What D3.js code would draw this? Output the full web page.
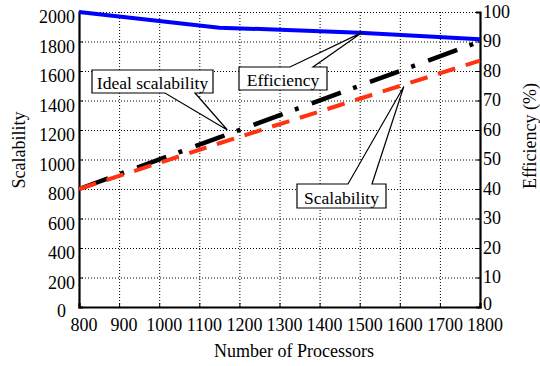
<!DOCTYPE html>
<html>
<head>
<meta charset="utf-8">
<script src="https://cdn.jsdelivr.net/npm/d3@7"></script>
<style>
  body { margin: 0; background: #fff; }
  text { font-family: "Liberation Serif", "Times New Roman", serif; fill: #000; }
</style>
</head>
<body>
<div id="chart"></div>
<script>
// Chart data
const processors = [800, 1150, 1500, 1800];
const idealScalability = [800, 1150, 1500, 1800];
const scalability = [800, 1110, 1412, 1670];
const efficiency = [100, 94.7, 93.0, 90.8];

const xTicks = [800, 900, 1000, 1100, 1200, 1300, 1400, 1500, 1600, 1700, 1800];
const leftTicks = [0, 200, 400, 600, 800, 1000, 1200, 1400, 1600, 1800, 2000];
const rightTicks = [0, 10, 20, 30, 40, 50, 60, 70, 80, 90, 100];

// Callout labels: text and the data point the pointer aims at
const callouts = [
  { label: "Ideal scalability", tip: [1170, 1200], axis: "left" },
  { label: "Efficiency", tip: [1505, 93], axis: "right" },
  { label: "Scalability", tip: [1610, 1495], axis: "left" }
];

// Layout
const width = 540, height = 366;
const plot = { left: 79, right: 480, top: 12, bottom: 307 };

const svg = d3.select("#chart")
  .append("svg")
  .attr("width", width)
  .attr("height", height);

const x = d3.scaleLinear().domain([800, 1800]).range([plot.left, plot.right]);
const yL = d3.scaleLinear().domain([0, 2000]).range([plot.bottom, plot.top]);
const yR = d3.scaleLinear().domain([0, 100]).range([plot.bottom, plot.top]);

// Dotted grid
const grid = svg.append("g")
  .attr("stroke", "#000")
  .attr("stroke-width", 1)
  .attr("stroke-dasharray", "1,2");

grid.selectAll("line.v")
  .data(xTicks.slice(1, -1))
  .enter()
  .append("line")
  .attr("x1", (d) => x(d) + 0.5)
  .attr("x2", (d) => x(d) + 0.5)
  .attr("y1", plot.top)
  .attr("y2", plot.bottom);

grid.selectAll("line.h")
  .data(leftTicks.slice(1))
  .enter()
  .append("line")
  .attr("x1", plot.left)
  .attr("x2", plot.right)
  .attr("y1", (d) => yL(d) + 0.5)
  .attr("y2", (d) => yL(d) + 0.5);

// Axes (ticks point inward)
const xAxis = svg.append("g")
  .attr("transform", `translate(0,${plot.bottom})`)
  .call(d3.axisTop(x).tickValues(xTicks).tickSize(4).tickFormat(""));

const leftAxis = svg.append("g")
  .attr("transform", `translate(${plot.left},0)`)
  .call(d3.axisRight(yL).tickValues(leftTicks).tickSize(4).tickFormat(""));

const rightAxis = svg.append("g")
  .attr("transform", `translate(${plot.right},0)`)
  .call(d3.axisLeft(yR).tickValues(rightTicks).tickSize(4).tickFormat(""));

[xAxis, leftAxis, rightAxis].forEach((a) => {
  a.select(".domain").attr("stroke-width", 2.2).attr("stroke", "#000");
  a.selectAll(".tick line").attr("stroke", "#000");
});

// Tick labels
svg.append("g")
  .selectAll("text")
  .data(xTicks)
  .enter()
  .append("text")
  .attr("x", (d) => x(d) + 5)
  .attr("y", 331)
  .attr("text-anchor", "middle")
  .style("font-size", "18px")
  .text((d) => d);

// the bottom "0" sits a little lower and further left, as in the original
svg.append("g")
  .selectAll("text")
  .data(leftTicks)
  .enter()
  .append("text")
  .attr("x", (d) => (d === 0 ? 66 : 75))
  .attr("y", (d) => (d === 0 ? yL(d) + 10 : yL(d) + 11))
  .attr("text-anchor", "end")
  .style("font-size", "18px")
  .text((d) => d);

svg.append("g")
  .selectAll("text")
  .data(rightTicks)
  .enter()
  .append("text")
  .attr("x", 483)
  .attr("y", (d) => (d === 0 ? yR(d) + 3 : yR(d) + 5.5))
  .attr("text-anchor", "start")
  .style("font-size", "18px")
  .text((d) => d);

// Axis titles
svg.append("text")
  .attr("x", 294)
  .attr("y", 357)
  .attr("text-anchor", "middle")
  .style("font-size", "18px")
  .text("Number of Processors");

svg.append("text")
  .attr("transform", "translate(25,150) rotate(-90)")
  .attr("text-anchor", "middle")
  .style("font-size", "18px")
  .text("Scalability");

svg.append("text")
  .attr("transform", "translate(536,136) rotate(-90)")
  .attr("text-anchor", "middle")
  .style("font-size", "18px")
  .text("Efficiency (%)");

// Lines
const lineLeft = d3.line()
  .x((d) => x(d[0]))
  .y((d) => yL(d[1]));
const lineRight = d3.line()
  .x((d) => x(d[0]))
  .y((d) => yR(d[1]));

svg.append("path")
  .datum(d3.zip(processors, idealScalability))
  .attr("d", lineLeft)
  .attr("fill", "none")
  .attr("stroke", "#000")
  .attr("stroke-width", 4.5)
  .attr("stroke-dasharray", "31,13,4,14");

svg.append("path")
  .datum(d3.zip(processors, scalability))
  .attr("d", lineLeft)
  .attr("fill", "none")
  .attr("stroke", "#ff3311")
  .attr("stroke-width", 4)
  .attr("stroke-dasharray", "18,11");

svg.append("path")
  .datum(d3.zip(processors, efficiency))
  .attr("d", lineRight)
  .attr("fill", "none")
  .attr("stroke", "#0000ff")
  .attr("stroke-width", 4);

// Callout boxes with pointers
const boxes = [
  { x0: 92, y0: 70, x1: 213, y1: 93, side: "bottom", b0: 165, b1: 195 },
  { x0: 239, y0: 67, x1: 327, y1: 90, side: "top", b0: 290, b1: 313 },
  { x0: 297, y0: 184, x1: 386, y1: 208, side: "top", b0: 348, b1: 372 }
];

callouts.forEach((c, i) => {
  const b = boxes[i];
  const tx = x(c.tip[0]);
  const ty = c.axis === "left" ? yL(c.tip[1]) : yR(c.tip[1]);
  let p;
  if (b.side === "top") {
    p = `M${b.x0},${b.y0}H${b.b0}L${tx},${ty}L${b.b1},${b.y0}H${b.x1}V${b.y1}H${b.x0}Z`;
  } else {
    p = `M${b.x0},${b.y0}H${b.x1}V${b.y1}H${b.b1}L${tx},${ty}L${b.b0},${b.y1}H${b.x0}Z`;
  }
  svg.append("path")
    .attr("d", p)
    .attr("fill", "#fff")
    .attr("stroke", "#000")
    .attr("stroke-width", 1.2);

  svg.append("text")
    .attr("x", (b.x0 + b.x1) / 2)
    .attr("y", b.y1 - 4)
    .attr("text-anchor", "middle")
    .style("font-size", "17.5px")
    .text(c.label);
});
</script>
</body>
</html>
